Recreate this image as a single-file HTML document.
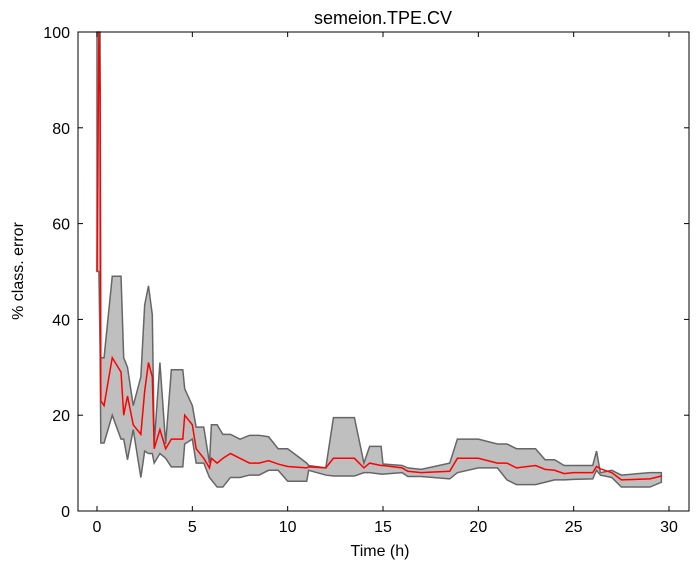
<!DOCTYPE html>
<html><head><meta charset="utf-8"><style>
body{margin:0;background:#fff;font-family:"Liberation Sans",sans-serif;}
svg text{font-family:"Liberation Sans",sans-serif;}
</style></head><body>
<svg id="chart" width="699" height="570" xmlns="http://www.w3.org/2000/svg">
<text x="383" y="24" font-size="18" text-anchor="middle">semeion.TPE.CV</text>
<text x="23" y="271" font-size="16" text-anchor="middle" transform="rotate(-90 23 271)">% class. error</text>
<text x="380" y="556" font-size="16" text-anchor="middle">Time (h)</text>
<g id="plot"></g>
</svg>
<script>
const times=[0,0.1,0.16,0.2,0.37,0.8,1.26,1.4,1.6,1.9,2.3,2.5,2.7,2.9,3.0,3.3,3.6,3.9,4.5,4.6,5.0,5.2,5.6,5.9,6.0,6.3,6.6,7.0,7.5,8.0,8.5,9.0,9.5,10,11,11.1,12,12.4,13.5,14,14.3,14.9,15,16,16.3,17,18.5,18.9,20,21,21.5,22,23,23.5,24,24.5,25,26,26.2,26.4,27,27.5,29,29.6];
const upper=[100,100,100,32,32,49,49,32,30,22,28,43,47,41,14,31,14,29.5,29.5,25.5,22,17.5,17.5,10,18,18,16,16,15,15.8,15.8,15.5,13,13,10,9.5,9,19.5,19.5,10,13.5,13.5,9.8,9.5,9,8.7,10,15,15,14,14,13,13,10.7,10.7,9.5,9.5,9.5,12.5,8,8.5,7.5,8,8];
const lower=[50,50,34,14.2,14.2,20,15,15,10.7,17,7,12.5,12,12,10,12,11,9.2,9.2,14,15,10,10,7,6.5,5,5,7,7,7.5,7.5,8.5,8.5,6.2,6.2,8.5,7.5,7.3,7.3,8,8,7.7,7.7,8,7.2,7.2,6.7,8,9,9,6.5,5.5,5.5,6,6.5,6.5,6.6,6.7,8.5,7.5,7,5,5,6];
const meanv=[50,100,87,23,22,32,29,20,24,18,16,25,31,28,13,17,13,15,15,20,18,13,11,9,11,10,11,12,11,10,10,10.5,9.8,9.3,9,9.2,9,11,11,9,10,9.5,9.5,9,8.3,8,8.3,11,11,10,10,9,9.5,8.7,8.5,7.8,8,8,9.3,8.8,8,6.5,6.7,7.3];
const xTicks=[0,5,10,15,20,25,30];
const yTicks=[0,20,40,60,80,100];
const L=78,R=689,T=32,B=511;
const xs=t=>97+t*(669-97)/30;
const ys=v=>B-v*(B-T)/100;
const g=document.getElementById('plot');
const NS='http://www.w3.org/2000/svg';
function mk(tag,attrs){const e=document.createElementNS(NS,tag);for(const k in attrs)e.setAttribute(k,attrs[k]);g.appendChild(e);return e;}
let d='M'+times.map((t,i)=>xs(t)+','+ys(upper[i])).join('L');
for(let i=times.length-1;i>=0;i--)d+='L'+xs(times[i])+','+ys(lower[i]);
d+='Z';
const band=mk('path',{d:d,fill:'#bfbfbf',stroke:'#666',"stroke-width":1.5});


const line=mk('polyline',{points:times.map((t,i)=>xs(t)+','+ys(meanv[i])).join(' '),fill:'none',stroke:'#f00',"stroke-width":1.5});


const frame=mk('rect',{x:L,y:T,width:R-L,height:B-T,fill:'none',stroke:'#000',"stroke-width":1});


xTicks.forEach(v=>{const x=xs(v);
 mk('line',{x1:x,x2:x,y1:B,y2:B-5,stroke:'#000'});mk('line',{x1:x,x2:x,y1:T,y2:T+5,stroke:'#000'});
 const tx=mk('text',{x:x,y:B+21,"font-size":16,"text-anchor":"middle"});tx.textContent=v;
 
 });
yTicks.forEach(v=>{const y=ys(v);
 mk('line',{x1:L,x2:L+5,y1:y,y2:y,stroke:'#000'});mk('line',{x1:R,x2:R-5,y1:y,y2:y,stroke:'#000'});
 const tx=mk('text',{x:L-8,y:y+6,"font-size":16,"text-anchor":"end"});tx.textContent=v;
 
 });
</script>
</body></html>
